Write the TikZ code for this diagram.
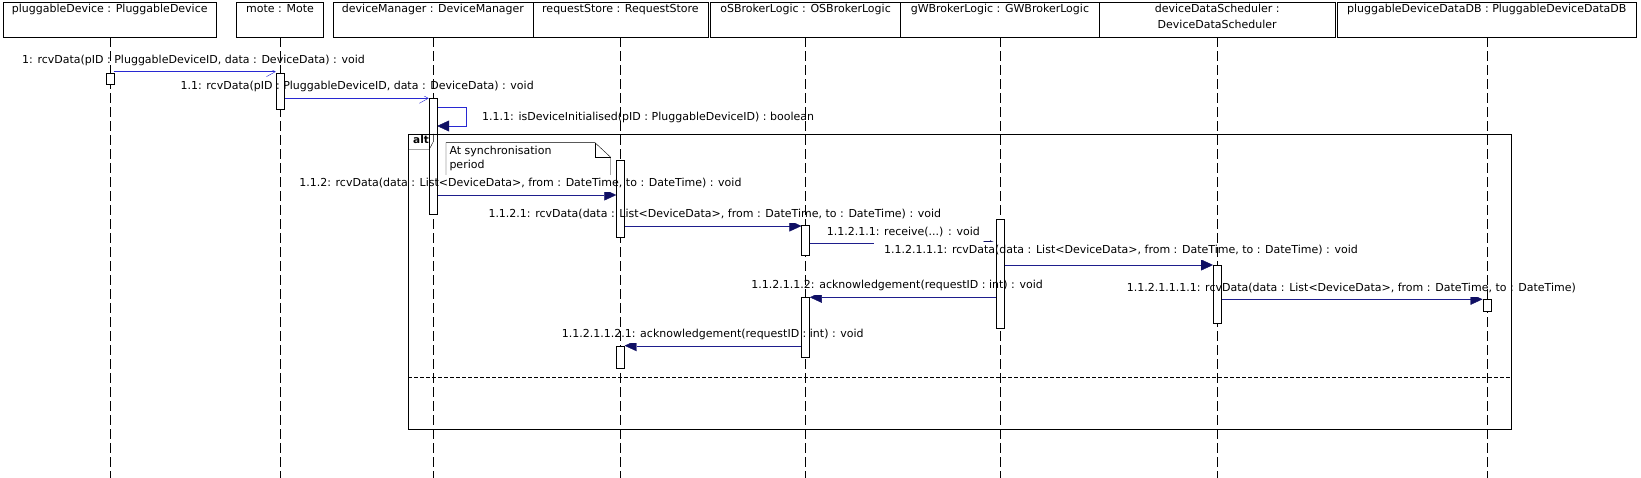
\documentclass[tikz,border=0pt]{standalone}
\usepackage{fontspec}
\setmainfont{DejaVu Sans}
\usetikzlibrary{arrows.meta}
\definecolor{msgblue}{RGB}{40,40,210}
\definecolor{navyline}{RGB}{30,30,140}
\definecolor{navyhead}{RGB}{15,15,100}
\pgfdeclarelayer{back}
\pgfdeclarelayer{mid}
\pgfdeclarelayer{top}
\pgfsetlayers{back,mid,main,top}
\begin{document}
\begin{tikzpicture}[x=1pt,y=-1pt,line width=1pt,
  every node/.style={font=\fontsize{11}{13}\selectfont},
  headbox/.style={draw,fill=white,anchor=north west,minimum height=34.5pt,inner sep=0pt},
  headtext/.style={anchor=base,inner sep=0pt},
  lifeline/.style={draw=black,dash pattern=on 10pt off 4pt},
  actbar/.style={draw,fill=white,minimum width=8pt,inner sep=0pt,anchor=north},
  msglabel/.style={inner xsep=10pt,inner ysep=3.5pt,text height=8pt,text depth=2pt},
  lw/.style={msglabel,anchor=base west,xshift=-10pt},
  le/.style={msglabel,anchor=base east,xshift=10pt},
  opencall/.style={draw=msgblue,-{Straight Barb[length=9pt,width=10pt]}},
  call/.style={draw=navyline,-{Triangle[length=12pt,width=11pt,color=navyhead]}},
  selfcall/.style={draw=msgblue,-{Triangle[length=12pt,width=11pt,color=navyhead]}},
  ]
\useasboundingbox (0,0) rectangle (1641,478);
\begin{pgfonlayer}{back}
\fill[white] (0,0) rectangle (1641,478);
\end{pgfonlayer}

% heads
\node[headbox,minimum width=213pt] (pD) at (3,2.5) {};
\node[headbox,minimum width=86.8pt] (mo) at (236.4,2.5) {};
\node[headbox,minimum width=199.5pt] (dM) at (333,2.5) {};
\node[headbox,minimum width=175.5pt] (rS) at (532.5,2.5) {};
\node[headbox,minimum width=190pt] (oS) at (710.4,2.5) {};
\node[headbox,minimum width=198.6pt] (gW) at (900.4,2.5) {};
\node[headbox,minimum width=236pt] (dS) at (1099,2.5) {};
\node[headbox,minimum width=299pt] (DB) at (1337,2.5) {};
\node[headtext] (pDt) at ([yshift=-10.5pt]pD.north) {pluggableDevice : PluggableDevice};
\node[headtext] (mot) at ([yshift=-10.5pt]mo.north) {mote : Mote};
\node[headtext] (dMt) at ([yshift=-10.5pt]dM.north) {deviceManager : DeviceManager};
\node[headtext] (rSt) at ([yshift=-10.5pt]rS.north) {requestStore : RequestStore};
\node[headtext] (oSt) at ([yshift=-10.5pt]oS.north) {oSBrokerLogic : OSBrokerLogic};
\node[headtext] (gWt) at ([yshift=-10.5pt]gW.north) {gWBrokerLogic : GWBrokerLogic};
\node[headtext] (dSt) at ([yshift=-10.5pt]dS.north) {deviceDataScheduler :};
\node[headtext] (dSt2) at ([yshift=-25.8pt]dS.north) {DeviceDataScheduler};
\node[headtext] (DBt) at ([yshift=-10.5pt]DB.north) {pluggableDeviceDataDB : PluggableDeviceDataDB};

% lifelines
\coordinate (bottom) at (0,478);
\foreach \h in {pD,mo,dM,rS,oS,gW,dS,DB}{
  \draw[lifeline] (\h.south) -- (\h.south |- bottom);
}

% activation bars
\node[actbar,minimum height=11.3pt] (bpD) at (pD.south |- 0,72.7) {};
\node[actbar,minimum height=36.6pt] (bmo) at (mo.south |- 0,72.7) {};
\node[actbar,minimum height=115.7pt] (bdM) at (dM.south |- 0,98.3) {};
\node[actbar,minimum height=77.3pt] (brS1) at (rS.south |- 0,160) {};
\node[actbar,minimum height=30pt] (boS1) at (oS.south |- 0,225) {};
\node[actbar,minimum height=108.3pt] (bgW) at (gW.south |- 0,219.3) {};
\node[actbar,minimum height=57.5pt] (bdS) at (dS.south |- 0,265.5) {};
\node[actbar,minimum height=12.1pt] (bDB) at (DB.south |- 0,299.3) {};
\node[actbar,minimum height=60.6pt] (boS2) at (oS.south |- 0,296.7) {};
\node[actbar,minimum height=22.6pt] (brS2) at (rS.south |- 0,345.7) {};

% message labels (text on top)
\begin{pgfonlayer}{top}
\node[lw] (m1) at (22,64) {1: rcvData(pID : PluggableDeviceID, data : DeviceData) : void};
\node[lw] (m11) at (180.4,90) {1.1: rcvData(pID : PluggableDeviceID, data : DeviceData) : void};
\node[lw] (m111) at (482,120.7) {1.1.1: isDeviceInitialised(pID : PluggableDeviceID) : boolean};
\node[le] (m112) at (741.7,186.7) {1.1.2: rcvData(data : List<DeviceData>, from : DateTime, to : DateTime) : void};
\node[lw] (m1121) at (488.3,217.3) {1.1.2.1: rcvData(data : List<DeviceData>, from : DateTime, to : DateTime) : void};
\node[lw] (m11211) at (826.7,235.7) {1.1.2.1.1: receive(...) : void};
\node[lw] (m112111) at (884,254) {1.1.2.1.1.1: rcvData(data : List<DeviceData>, from : DateTime, to : DateTime) : void};
\node[le] (m112112) at (1043,289) {1.1.2.1.1.2: acknowledgement(requestID : int) : void};
\node[lw] (m1121111) at (1126.7,291) {1.1.2.1.1.1.1: rcvData(data : List<DeviceData>, from : DateTime, to : DateTime)};
\node[lw] (m1121121) at (561.7,337.3) {1.1.2.1.1.2.1: acknowledgement(requestID : int) : void};
% alt fragment
\draw (408,134) rectangle (1511,429.3);
\draw (408,149.3) -- (429.3,149.3) -- (433.3,141.7) -- (433.3,134);
\node[anchor=base west,inner sep=0pt,font=\bfseries\fontsize{10.5}{13}\selectfont] (alt) at (413,144) {alt};
\draw[dash pattern=on 4pt off 2pt] (408,377.3) -- (1511,377.3);
\end{pgfonlayer}

% label backgrounds (under lifelines and bars)
\begin{pgfonlayer}{mid}
\foreach \n in {m1,m11,m111,m112,m1121,m11211,m112111,m112112,m1121111,m1121121}{
  \fill[white] (\n.south west) rectangle (\n.north east);
}
\end{pgfonlayer}

\begin{pgfonlayer}{back}
% note
\draw[fill=white] (446,142.7) -- (595,142.7) -- (610.7,157.3) -- (610.7,188) -- (446,188) -- cycle;
\draw (595,142.7) -- (595,157.3) -- (610.7,157.3);
\node[anchor=base west,inner sep=0pt] (note1) at (449.3,155) {At synchronisation};
\node[anchor=base west,inner sep=0pt] (note2) at (449.3,168.3) {period};
% messages
\draw[opencall] (bpD.east |- 0,71.7) -- (bmo.west |- 0,71.7);
\draw[opencall] (bmo.east |- 0,98.3) -- (bdM.west |- 0,98.3);
\draw[selfcall] (bdM.east |- 0,107.3) -- (466,107.3) -- (466,126) -- (bdM.east |- 0,126);
\draw[call] (bdM.east |- 0,195) -- (brS1.west |- 0,195);
\draw[call] (brS1.east |- 0,226) -- (boS1.west |- 0,226);
\draw[call] (boS1.east |- 0,243) -- (bgW.west |- 0,243);
\draw[call] (bgW.east |- 0,265) -- (bdS.west |- 0,265);
\draw[call] (bgW.west |- 0,297.3) -- (boS2.east |- 0,297.3);
\draw[call] (bdS.east |- 0,299.3) -- (bDB.west |- 0,299.3);
\draw[call] (boS2.west |- 0,345.7) -- (brS2.east |- 0,345.7);
\end{pgfonlayer}
\end{tikzpicture}
\end{document}
